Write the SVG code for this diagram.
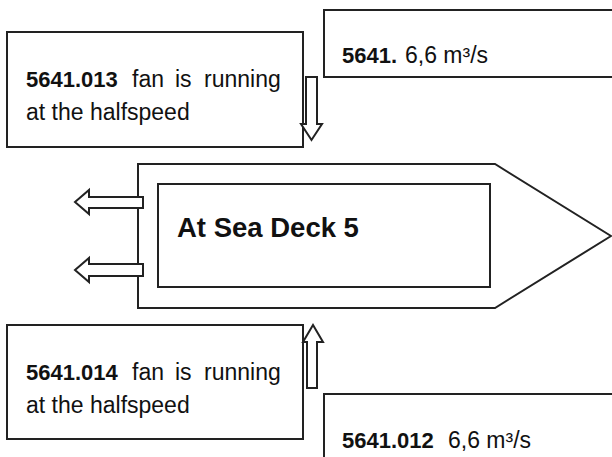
<svg xmlns="http://www.w3.org/2000/svg" width="612" height="457" viewBox="0 0 612 457">
<style>
.box{fill:#fff;stroke:#222;stroke-width:2}
.arr{fill:#fff;stroke:#222;stroke-width:2;stroke-linejoin:miter}
text{font-family:"Liberation Sans",Arial,sans-serif;font-size:23px;fill:#111}
.b{font-weight:bold;font-size:22px}
.title{font-size:27.5px;font-weight:bold}
</style>
<rect width="612" height="457" fill="#fff"/>
<g id="ship">
<path class="box" d="M138,164 L495,164 L611,236 L495,308 L138,308 Z"/>
<rect class="box" x="158" y="184" width="332" height="103"/>
<text class="title" x="177" y="237">At Sea Deck 5</text>
</g>
<g id="node-5641-013">
<rect class="box" x="7" y="32" width="296" height="115"/>
<text y="87"><tspan class="b" x="26">5641.013</tspan><tspan x="132">fan</tspan><tspan x="175">is</tspan><tspan x="204">running</tspan></text>
<text x="26" y="120">at the halfspeed</text>
</g>
<g id="node-5641">
<rect class="box" x="324" y="10" width="300" height="67"/>
<text x="342" y="63"><tspan class="b">5641.</tspan><tspan x="405">6,6 m³/s</tspan></text>
</g>
<g id="node-5641-014">
<rect class="box" x="7" y="325" width="296" height="114"/>
<text y="380"><tspan class="b" x="26">5641.014</tspan><tspan x="132">fan</tspan><tspan x="175">is</tspan><tspan x="204">running</tspan></text>
<text x="26" y="413">at the halfspeed</text>
</g>
<g id="node-5641-012">
<rect class="box" x="324" y="394" width="300" height="80"/>
<text x="342" y="448"><tspan class="b">5641.012</tspan><tspan x="448">6,6 m³/s</tspan></text>
</g>
<g id="connectors">
<polygon class="arr" points="306,77 317,77 317,124 322,124 311.5,140 301,124 306,124"/>
<polygon class="arr" points="307,388 317,388 317,342 323,342 313,325 303,342 307,342"/>
<polygon class="arr" points="143,197 89,197 89,190 75,202 89,214 89,208 143,208"/>
<polygon class="arr" points="143,264 89,264 89,258 75,270 89,282 89,276 143,276"/>
</g>
</svg>
